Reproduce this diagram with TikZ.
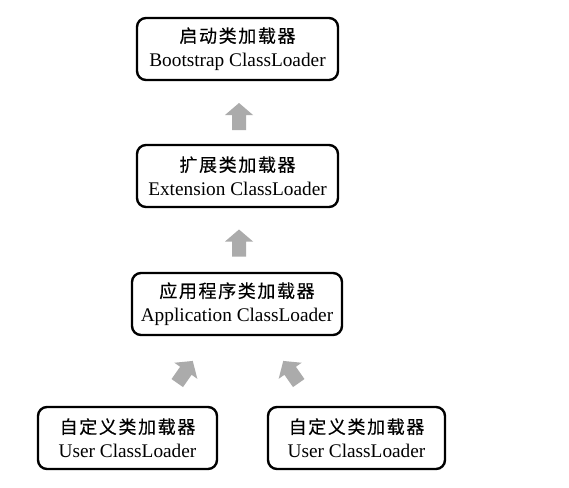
\documentclass[tikz,border=0pt]{standalone}
\usepackage{fontspec}
\setmainfont{Liberation Serif}
\newfontfamily\cjk[LetterSpace=9,FakeBold=0.3]{Noto Sans CJK SC}
\tikzset{
  loader/.style={draw=black, line width=2.4pt, rounded corners=9pt, fill=white,
    minimum height=62pt, inner sep=0pt, align=center,
    font=\fontsize{19.3}{24}\selectfont},
  arrowfill/.style={fill=black!33},
  pics/blockarrow/.style={code={
    \fill[arrowfill] (-7,13.5) -- (7,13.5) -- (7,-1.5) -- (14,-1.5) -- (0,-13.5)
      -- (-14,-1.5) -- (-7,-1.5) -- cycle;}}
}
\newcommand{\zh}[1]{{\cjk\fontsize{18}{24}\selectfont #1}}
\begin{document}
\begin{tikzpicture}[x=1pt,y=-1pt]
\useasboundingbox[fill=white] (0,0) rectangle (569,487);
\node[loader, minimum width=201pt] (boot) at (237.5,49) {\zh{启动类加载器}\\Bootstrap ClassLoader};
\node[loader, minimum width=201pt] (ext) at (237.5,176) {\zh{扩展类加载器}\\Extension ClassLoader};
\node[loader, minimum width=210pt] (app) at (237,304) {\zh{应用程序类加载器}\\Application ClassLoader};
\node[loader, minimum width=179pt] (user1) at (127.5,438) {\zh{自定义类加载器}\\User ClassLoader};
\node[loader, minimum width=177pt] (user2) at (356.5,438) {\zh{自定义类加载器}\\User ClassLoader};
\pic at (239,116.5) {blockarrow};
\pic at (239,243) {blockarrow};
\pic[rotate=-35] at (185,372) {blockarrow};
\pic[rotate=35] at (291,372) {blockarrow};
\end{tikzpicture}
\end{document}
